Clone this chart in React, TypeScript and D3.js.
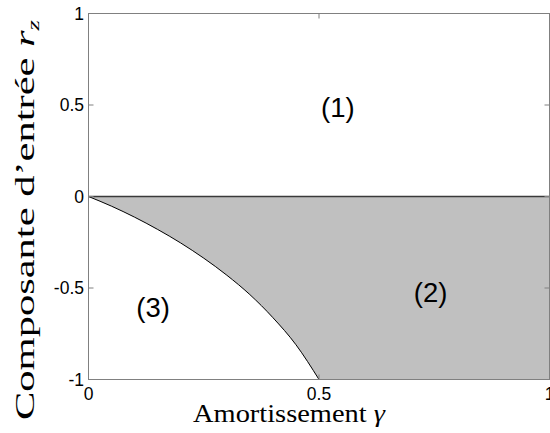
import React from "react";
import * as d3 from "d3";

// Boundary between region (2) and region (3)
const gammaBoundary = [0, 0.05, 0.1, 0.15, 0.2, 0.25, 0.3, 0.35, 0.4, 0.45, 0.5];
const rzBoundary = [0, -0.053, -0.113, -0.18, -0.254, -0.337, -0.43, -0.536, -0.662, -0.81, -1];

const xTicks = [0, 0.5, 1];
const yTicks = [-1, -0.5, 0, 0.5, 1];
const xTickLabels = ["0", "0.5", "1"];
const yTickLabels = ["-1", "-0.5", "0", "0.5", "1"];

const regionNames = ["(1)", "(2)", "(3)"];
const regionGamma = [0.541, 0.742, 0.14];
const regionRz = [0.433, -0.579, -0.66];

const W = 550;
const H = 433;
const left = 88.5;
const right = 549.5;
const top = 13.5;
const bottom = 379.5;

export default function App() {
  const x = d3.scaleLinear().domain([0, 1]).range([left, right]);
  const y = d3.scaleLinear().domain([-1, 1]).range([bottom, top]);

  const pts: [number, number][] = gammaBoundary.map((g, i) => [g, rzBoundary[i]]);
  const curve = d3
    .line<[number, number]>()
    .x((d) => x(d[0]))
    .y((d) => y(d[1]))
    .curve(d3.curveMonotoneX);
  const curvePath = curve(pts) || "";
  const fillPath = curvePath + `L${x(1)},${y(-1)}L${x(1)},${y(0)}Z`;

  const axisColor = "#808080";
  const tick = 5;
  const sans = "'Liberation Sans', Arial, Helvetica, sans-serif";
  const serif = "'Liberation Serif', 'Times New Roman', serif";

  return (
    <svg
      width={W}
      height={H}
      style={{ position: "absolute", left: 0, top: 0, background: "#fff" }}
    >
      <rect x={0} y={0} width={W} height={H} fill="#fff" />
      {/* shaded region (2) */}
      <path d={fillPath} fill="#c0c0c0" stroke="none" />
      {/* boundary curve */}
      <path d={curvePath} fill="none" stroke="#000" strokeWidth={1} />
      {/* r_z = 0 line */}
      <line x1={x(0)} x2={x(1)} y1={y(0)} y2={y(0)} stroke="#3a3a3a" strokeWidth={1.5} />

      {/* axes box */}
      <rect
        x={left}
        y={top}
        width={right - left}
        height={bottom - top}
        fill="none"
        stroke={axisColor}
        strokeWidth={1}
      />
      {yTicks.map((t) => (
        <g key={"yt" + t}>
          <line x1={left} x2={left + tick} y1={y(t)} y2={y(t)} stroke={axisColor} />
          <line x1={right} x2={right - tick} y1={y(t)} y2={y(t)} stroke={axisColor} />
        </g>
      ))}
      {xTicks.map((t) => (
        <g key={"xt" + t}>
          <line x1={x(t)} x2={x(t)} y1={bottom} y2={bottom - tick} stroke={axisColor} />
          <line x1={x(t)} x2={x(t)} y1={top} y2={top + tick} stroke={axisColor} />
        </g>
      ))}

      {/* tick labels */}
      {yTicks.map((t, i) => (
        <text
          key={"yl" + t}
          x={84}
          y={y(t) + 6}
          textAnchor="end"
          fontFamily={sans}
          fontSize={17.5}
          fill="#000"
        >
          {yTickLabels[i]}
        </text>
      ))}
      {xTicks.map((t, i) => (
        <text
          key={"xl" + t}
          x={x(t)}
          y={400}
          textAnchor="middle"
          fontFamily={sans}
          fontSize={17.5}
          fill="#000"
        >
          {xTickLabels[i]}
        </text>
      ))}

      {/* region labels */}
      {regionNames.map((n, i) => (
        <text
          key={n}
          x={x(regionGamma[i])}
          y={y(regionRz[i])}
          textAnchor="middle"
          fontFamily={sans}
          fontSize={27.5}
          fill="#000"
        >
          {n}
        </text>
      ))}

      {/* axis labels */}
      <text
        x={193}
        y={421.5}
        fontFamily={serif}
        fontSize={26}
        fill="#000"
        textLength={192}
        lengthAdjust="spacingAndGlyphs"
      >
        Amortissement <tspan fontStyle="italic">γ</tspan>
      </text>
      <g transform="translate(33.5,420) rotate(-90)">
        <text
          x={0}
          y={0}
          fontFamily={serif}
          fontSize={27}
          fill="#000"
          textLength={400}
          lengthAdjust="spacingAndGlyphs"
        >
          Composante d’entrée <tspan fontStyle="italic">r</tspan>
          <tspan fontStyle="italic" fontSize={17} dy={5}>z</tspan>
        </text>
      </g>
    </svg>
  );
}
